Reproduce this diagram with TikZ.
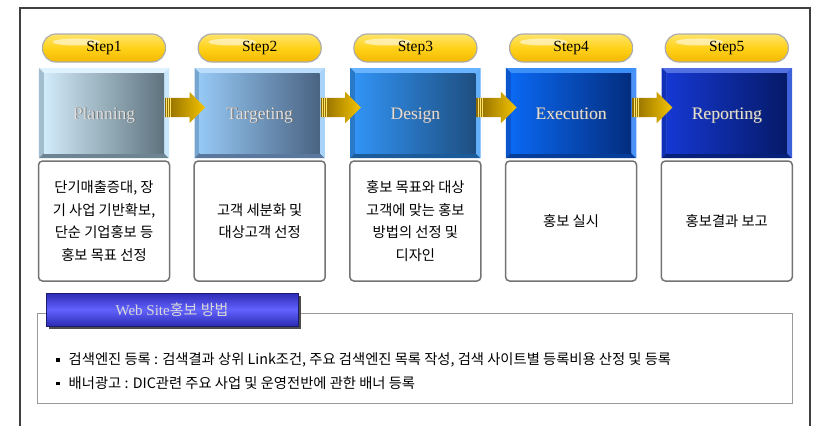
\documentclass[tikz,border=0pt]{standalone}
\usepackage{fontspec}
\setmainfont{Liberation Serif}
\newfontfamily\kr{Noto Sans CJK KR}
\usepackage{tikz}
\usetikzlibrary{positioning,calc,shapes.arrows,shadows}
% step box colours: L/R face, T top, S left side, B bottom, E right side
\definecolor{PlanL}{HTML}{D2EBFA}
\definecolor{PlanR}{HTML}{5E737E}
\definecolor{PlanT}{HTML}{E0F2FD}
\definecolor{PlanS}{HTML}{A2BDCE}
\definecolor{PlanB}{HTML}{6D8592}
\definecolor{PlanE}{HTML}{C9E7FA}
\definecolor{TargL}{HTML}{95C8F4}
\definecolor{TargR}{HTML}{4A6382}
\definecolor{TargT}{HTML}{BADDFB}
\definecolor{TargS}{HTML}{76A5D0}
\definecolor{TargB}{HTML}{5A789E}
\definecolor{TargE}{HTML}{A9D4FA}
\definecolor{DesiL}{HTML}{3193F4}
\definecolor{DesiR}{HTML}{1E4E80}
\definecolor{DesiT}{HTML}{68B4FF}
\definecolor{DesiS}{HTML}{2879C8}
\definecolor{DesiB}{HTML}{1B5B9A}
\definecolor{DesiE}{HTML}{62AEF8}
\definecolor{ExecL}{HTML}{0A68F2}
\definecolor{ExecR}{HTML}{032D7E}
\definecolor{ExecT}{HTML}{3C8EF8}
\definecolor{ExecS}{HTML}{0B56CC}
\definecolor{ExecB}{HTML}{063D98}
\definecolor{ExecE}{HTML}{4A92F8}
\definecolor{RepoL}{HTML}{1538D2}
\definecolor{RepoR}{HTML}{051A68}
\definecolor{RepoT}{HTML}{5270E2}
\definecolor{RepoS}{HTML}{1131B8}
\definecolor{RepoB}{HTML}{07207A}
\definecolor{RepoE}{HTML}{3C5FDA}
% pills, arrows, tab
\definecolor{PillT}{HTML}{FFE46A}
\definecolor{PillM}{HTML}{FFD21A}
\definecolor{PillB}{HTML}{F4B800}
\definecolor{ArrD}{HTML}{8C6A00}
\definecolor{ArrY}{HTML}{F4C400}
\definecolor{TabD}{HTML}{2C2CB4}
\definecolor{TabM}{HTML}{6262FF}
\definecolor{TabE}{HTML}{1A1A6E}

\begin{document}
\begin{tikzpicture}[x=1pt, y=-1pt,
  frame/.style    = {draw=black!75, line width=1.2pt},
  pill/.style     = {rectangle, rounded corners=13.5pt, minimum width=123pt, minimum height=28pt, inner sep=0pt,
                     draw=gray!65, line width=1.2pt, top color=PillT, bottom color=PillB, middle color=PillM,
                     font=\fontsize{15.5}{15.5}\selectfont,
                     path picture={\fill[white, opacity=0.55] ([xshift=34pt,yshift=-8pt]path picture bounding box.north west)
                                   ellipse [x radius=24pt, y radius=3.5pt];}},
  stepbox/.style  = {rectangle, minimum width=130pt, minimum height=90pt, inner sep=0pt},
  face/.style     = {rectangle, minimum width=120pt, minimum height=80pt, inner sep=0pt},
  steptext/.style = {font=\fontsize{17.5}{17.5}\selectfont, inner sep=0pt, anchor=base},
  goarrow/.style  = {single arrow, single arrow head extend=6pt, minimum height=40pt, minimum width=31pt,
                     inner xsep=0pt, inner ysep=9.5pt, left color=ArrD, right color=ArrY,
                     path picture={\foreach \k in {1.5,3.5,5.5}
                       \draw[PillT, line width=0.5pt] ([xshift=\k pt]path picture bounding box.south west)
                                                      -- ([xshift=\k pt]path picture bounding box.north west);}},
  desc/.style     = {rectangle, rounded corners=4pt, draw=black!55, line width=1.5pt, fill=white,
                     minimum width=131pt, minimum height=120pt, inner sep=0pt, align=center,
                     font=\kr\fontsize{14.3}{22.5}\selectfont},
  panel/.style    = {rectangle, draw=black!40, line width=1pt, minimum width=755pt, minimum height=90pt},
  tab/.style      = {rectangle, minimum width=252pt, minimum height=33pt, top color=TabD, bottom color=TabD, middle color=TabM,
                     draw=TabE, line width=0.6pt, text=black!15, font=\kr\fontsize{15}{15}\selectfont,
                     drop shadow={shadow xshift=3pt, shadow yshift=-3pt, fill=black!70, opacity=1}},
  item/.style     = {anchor=west, inner sep=0pt, font=\kr\fontsize{14.3}{14.3}\selectfont}
]
\useasboundingbox (0,0) rectangle (816,426);

% outer frame
\draw[frame] (20,426) -- (20,8) -- (810,8) -- (810,426);

% steps
\foreach \i/\x/\col/\name in {1/104/Plan/Planning, 2/259.7/Targ/Targeting, 3/415.4/Desi/Design,
                               4/571.1/Exec/Execution, 5/726.8/Repo/Reporting}{
  \node[pill] (p\i) at (\x,48) {Step\i};
  \node[stepbox, fill=\col T] (s\i) at (\x,113) {};
  \fill[\col S] (s\i.north west) -- ([xshift=5pt,yshift=-5pt]s\i.north west)
             -- ([xshift=5pt,yshift=5pt]s\i.south west) -- (s\i.south west) -- cycle;
  \fill[\col B] (s\i.south west) -- ([xshift=5pt,yshift=5pt]s\i.south west)
             -- ([xshift=-5pt,yshift=5pt]s\i.south east) -- (s\i.south east) -- cycle;
  \fill[\col E] (s\i.south east) -- ([xshift=-5pt,yshift=5pt]s\i.south east)
             -- ([xshift=-5pt,yshift=-5pt]s\i.north east) -- (s\i.north east) -- cycle;
  \node[face, left color=\col L, right color=\col R] (f\i) at (s\i) {};
  \node[steptext, text=black!60] at (\x+0.8,119.8) {\name};
  \node[steptext, text=white!88!black] (t\i) at (\x,119) {\name};
}

% arrows between the steps
\foreach \i/\j in {1/2, 2/3, 3/4, 4/5}
  \node[goarrow] (a\i) at ([xshift=-1.5pt,yshift=5.5pt]$(s\i.east)!0.5!(s\j.west)$) {};

% descriptions
\node[desc] (d1) at (104,221)   {단기매출증대, 장\\기 사업 기반확보,\\단순 기업홍보 등\\홍보 목표 선정};
\node[desc] (d2) at (259.7,221) {고객 세분화 및\\대상고객 선정};
\node[desc] (d3) at (415.4,221) {홍보 목표와 대상\\고객에 맞는 홍보\\방법의 선정 및\\디자인};
\node[desc] (d4) at (571.1,221) {홍보 실시};
\node[desc] (d5) at (726.8,221) {홍보결과 보고};

% web site section
\node[panel] (web) at (414.5,358) {};
\node[tab] (tabW) at (172,309.5) {{\rmfamily Web Site}홍보 방법};
\node[item] (w1) at (56,360) {\rule[3pt]{3.5pt}{3.5pt}\hspace{9pt}검색엔진 등록 : 검색결과 상위 Link조건, 주요 검색엔진 목록 작성, 검색 사이트별 등록비용 산정 및 등록};
\node[item] (w2) at (56,383) {\rule[3pt]{3.5pt}{3.5pt}\hspace{9pt}배너광고 : DIC관련 주요 사업 및 운영전반에 관한 배너 등록};
\end{tikzpicture}
\end{document}
